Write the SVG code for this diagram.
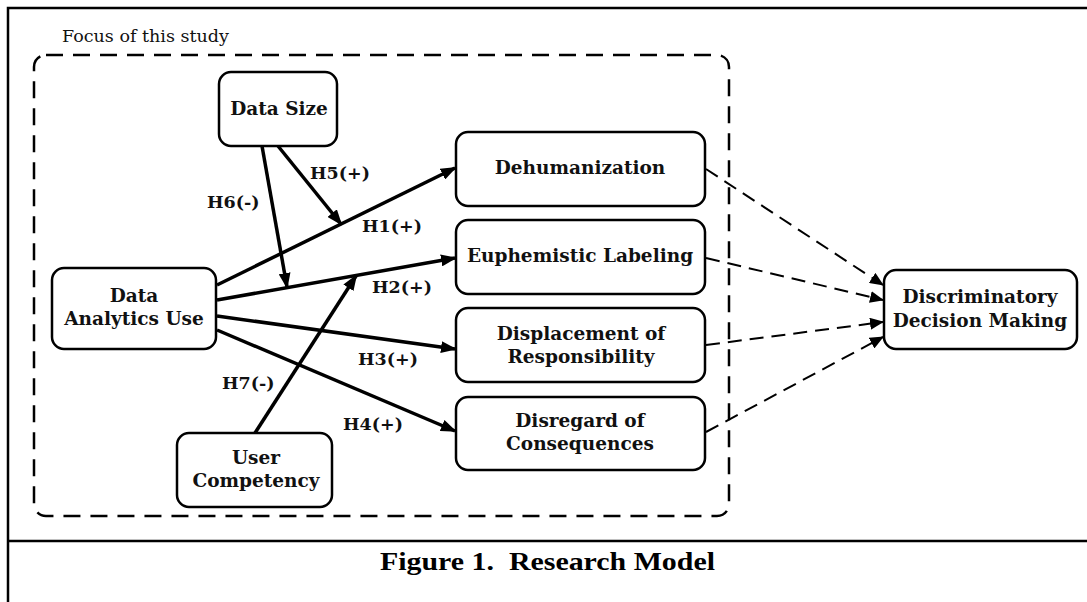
<svg xmlns="http://www.w3.org/2000/svg" width="1087" height="602" viewBox="0 0 1087 602">
<defs>
<style>
.frame{stroke:#000;stroke-width:2.5;fill:none}
.focus{stroke:#000;stroke-width:2.5;fill:none;stroke-dasharray:17 10}
.box{fill:#fff;stroke:#000;stroke-width:2.5}
.t{font-family:"DejaVu Serif","Liberation Serif",serif;font-weight:bold;font-size:18.5px;fill:#111;text-anchor:middle}
.lab{font-family:"DejaVu Serif","Liberation Serif",serif;font-weight:bold;font-size:17.5px;fill:#111}
.solid{stroke:#000;stroke-width:3.5;fill:none;marker-end:url(#ah)}
.dash{stroke:#000;stroke-width:2;fill:none;stroke-dasharray:14 8;marker-end:url(#ahs)}
</style>
<marker id="ah" markerUnits="userSpaceOnUse" viewBox="0 0 16 12" markerWidth="16" markerHeight="12" refX="14" refY="6" orient="auto">
<path d="M0,0 L16,6 L0,12 z" fill="#000"/>
</marker>
<marker id="ahs" markerUnits="userSpaceOnUse" viewBox="0 0 14 12" markerWidth="14" markerHeight="12" refX="13" refY="6" orient="auto">
<path d="M0,0 L14,6 L0,12 z" fill="#000"/>
</marker>
</defs>
<rect width="1087" height="602" fill="#fff"/>
<g id="frame">
<path class="frame" d="M8,602 L8,8 L1087,8"/>
<path class="frame" d="M8,541 L1087,541"/>
<rect class="focus" x="34" y="55" width="695" height="461" rx="12"/>
<text x="62" y="42" textLength="167" lengthAdjust="spacingAndGlyphs" style="font-family:'DejaVu Serif','Liberation Serif',serif;font-size:17px;fill:#111">Focus of this study</text>
<text x="380" y="570" textLength="335" lengthAdjust="spacingAndGlyphs" style="font-family:'Liberation Serif','Times New Roman',serif;font-weight:bold;font-size:25px;fill:#000" xml:space="preserve">Figure 1.  Research Model</text>
</g>
<g id="connectors">
<path class="solid" d="M217,285 L455,168"/>
<path class="solid" d="M217,300 L455,258"/>
<path class="solid" d="M217,316 L455,349"/>
<path class="solid" d="M217,330 L455,431"/>
<path class="solid" d="M278,146 L341,224"/>
<path class="solid" d="M262,146 L287,287"/>
<path class="solid" d="M255,433 L356,276"/>
<path class="dash" d="M706,169 L883,285"/>
<path class="dash" d="M706,258 L883,300"/>
<path class="dash" d="M706,345 L883,322"/>
<path class="dash" d="M706,432 L883,337"/>
<text class="lab" x="310" y="179">H5(+)</text>
<text class="lab" x="207" y="208">H6(-)</text>
<text class="lab" x="362" y="232">H1(+)</text>
<text class="lab" x="372" y="293">H2(+)</text>
<text class="lab" x="358" y="365">H3(+)</text>
<text class="lab" x="222" y="389">H7(-)</text>
<text class="lab" x="343" y="430">H4(+)</text>
</g>
<g id="data-size">
<rect class="box" x="219" y="72" width="118" height="74" rx="12"/>
<text class="t" x="279" y="115">Data Size</text>
</g>
<g id="data-analytics-use">
<rect class="box" x="52" y="268" width="164" height="81" rx="12"/>
<text class="t" x="134" y="302">Data</text>
<text class="t" x="134" y="325">Analytics Use</text>
</g>
<g id="user-competency">
<rect class="box" x="177" y="433" width="155" height="74" rx="12"/>
<text class="t" x="256" y="464">User</text>
<text class="t" x="256" y="487">Competency</text>
</g>
<g id="dehumanization">
<rect class="box" x="456" y="132" width="249" height="74" rx="12"/>
<text class="t" x="580" y="174">Dehumanization</text>
</g>
<g id="euphemistic-labeling">
<rect class="box" x="456" y="220" width="249" height="74" rx="12"/>
<text class="t" x="580" y="262">Euphemistic Labeling</text>
</g>
<g id="displacement">
<rect class="box" x="456" y="308" width="249" height="74" rx="12"/>
<text class="t" x="581" y="340">Displacement of</text>
<text class="t" x="581" y="363">Responsibility</text>
</g>
<g id="disregard">
<rect class="box" x="456" y="397" width="249" height="73" rx="12"/>
<text class="t" x="580" y="427">Disregard of</text>
<text class="t" x="580" y="450">Consequences</text>
</g>
<g id="discriminatory">
<rect class="box" x="884" y="270" width="193" height="79" rx="12"/>
<text class="t" x="980" y="303">Discriminatory</text>
<text class="t" x="980" y="327">Decision Making</text>
</g>
</svg>
